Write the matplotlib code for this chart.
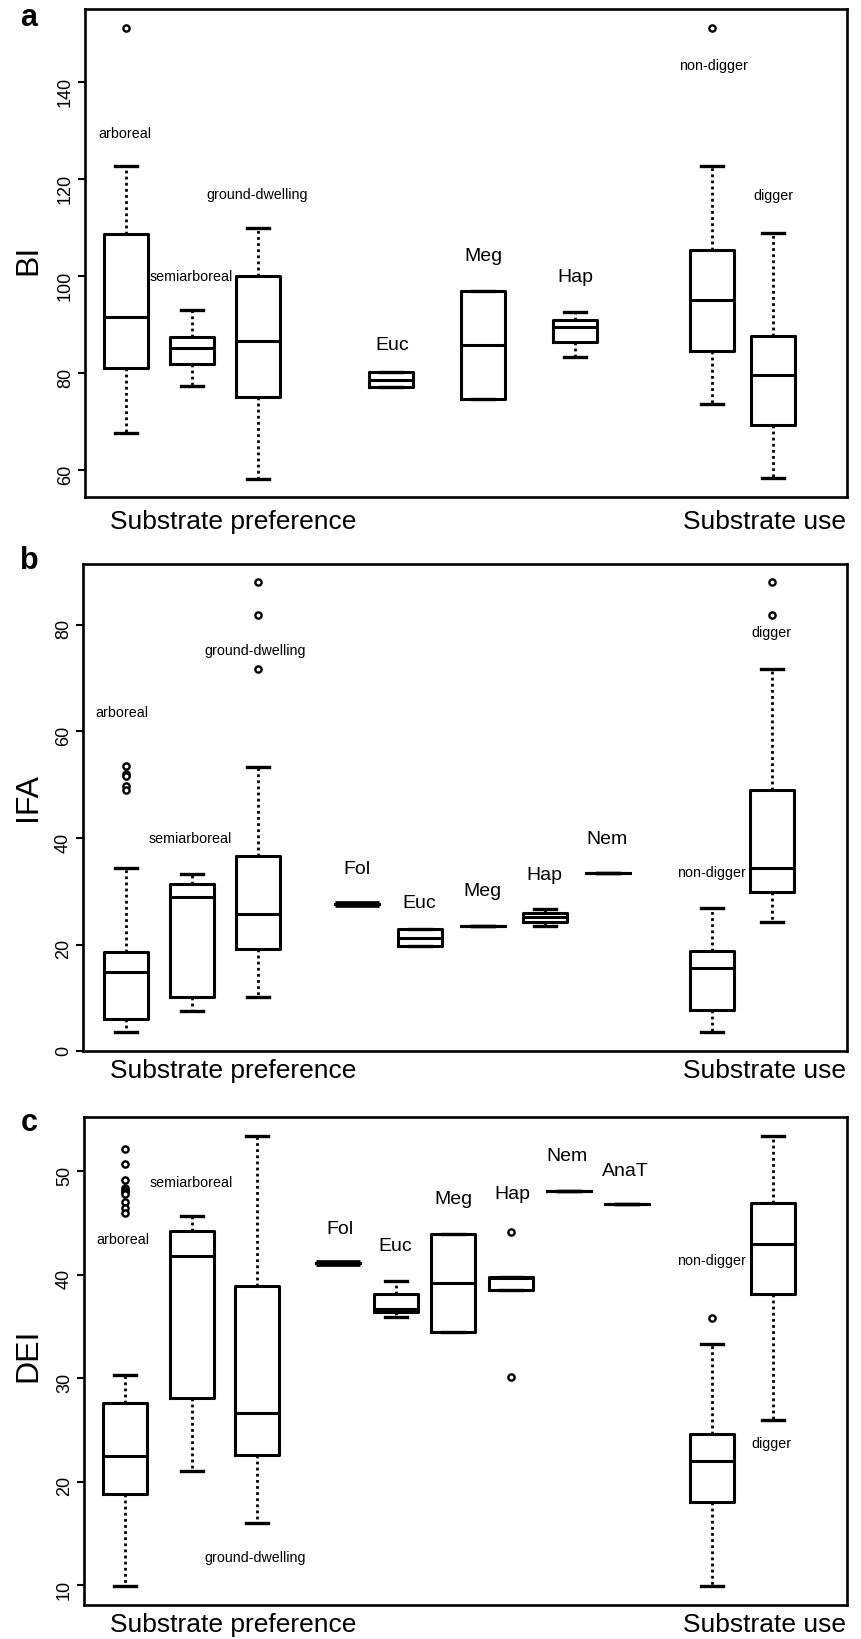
import matplotlib.pyplot as plt

plt.rcParams['font.family'] = ['Liberation Sans', 'DejaVu Sans']

# ---- panel a : BI ----
groups_a = ['arboreal', 'semiarboreal', 'ground-dwelling', 'Euc', 'Meg', 'Hap', 'non-digger', 'digger']
lo_a = [67.7, 77.3, 58.2, 77.1, 74.7, 83.3, 73.5, 58.3]
q1_a = [81.0, 81.8, 75.1, 77.1, 74.7, 86.4, 84.5, 69.3]
med_a = [91.5, 85.1, 86.6, 78.6, 85.8, 89.4, 95.1, 79.6]
q3_a = [108.6, 87.5, 100.1, 80.2, 97.0, 91.0, 105.3, 87.6]
hi_a = [122.8, 93.0, 110.0, 80.2, 97.0, 92.6, 122.8, 108.9]
out_a = [[151.2], [], [], [], [], [], [151.2], []]
ticks_a = [60, 80, 100, 120, 140]

# ---- panel b : IFA ----
groups_b = ['arboreal', 'semiarboreal', 'ground-dwelling', 'Fol', 'Euc', 'Meg', 'Hap', 'Nem', 'non-digger', 'digger']
lo_b = [3.5, 7.5, 10.2, 27.7, 19.8, 23.4, 23.5, 33.5, 3.5, 24.3]
q1_b = [6.0, 10.2, 19.2, 27.7, 19.8, 23.4, 24.2, 33.5, 7.8, 29.9]
med_b = [14.9, 28.9, 25.8, 27.7, 21.3, 23.4, 25.1, 33.5, 15.6, 34.3]
q3_b = [18.6, 31.4, 36.7, 27.7, 23.0, 23.4, 25.9, 33.5, 18.8, 49.0]
hi_b = [34.4, 33.3, 53.3, 27.7, 23.0, 23.4, 26.6, 33.5, 26.8, 71.7]
out_b = [[53.6, 52.1, 51.7, 49.7, 49.0], [], [88.0, 81.8, 71.7], [], [], [], [], [], [], [88.0, 81.8]]
ticks_b = [0, 20, 40, 60, 80]

# ---- panel c : DEI ----
groups_c = ['arboreal', 'semiarboreal', 'ground-dwelling', 'Fol', 'Euc', 'Meg', 'Hap', 'Nem', 'AnaT', 'non-digger', 'digger']
lo_c = [9.9, 21.0, 16.0, 41.1, 35.9, 34.5, 38.5, 48.1, 46.8, 9.9, 26.0]
q1_c = [18.8, 28.1, 22.6, 41.1, 36.4, 34.5, 38.5, 48.1, 46.8, 18.0, 38.1]
med_c = [22.5, 41.85, 26.6, 41.1, 36.7, 39.2, 39.7, 48.1, 46.8, 22.0, 43.0]
q3_c = [27.6, 44.2, 38.9, 41.1, 38.1, 43.9, 39.8, 48.1, 46.8, 24.6, 46.9]
hi_c = [30.3, 45.7, 53.45, 41.1, 39.4, 43.9, 39.8, 48.1, 46.8, 33.3, 53.45]
out_c = [[52.2, 50.7, 49.2, 48.4, 48.2, 48.0, 47.8, 47.0, 46.5, 46.0], [], [], [], [], [], [44.1, 30.1], [], [], [35.8], []]
ticks_c = [10, 20, 30, 40, 50]

# layout (pixels of the 862x1640 figure)
W, H = 862, 1640
pos_a = [125.7, 192, 257.7, 391.5, 483, 575, 712.5, 772.7]
pos_b = [125.7, 192, 257.7, 356.7, 419.5, 482.5, 544.5, 607.5, 712, 772]
pos_c = [125.5, 192, 257.5, 338.5, 396, 453.5, 511.3, 569, 626.7, 712, 772.7]

# label positions: (x px, y data)
lab_a = [(124.7, 129.5), (191, 100.1), (256.7, 117.0), (391.7, 85.8), (483.3, 104.2),
         (575, 99.8), (713.3, 143.6), (773.7, 116.8)]
lab_b = [(122, 63.6), (190, 40.0), (255, 75.2), (356.7, 34.2), (419.3, 27.9), (482.7, 30.1),
         (544, 33.2), (607.3, 39.9), (711, 33.6), (771.7, 78.6)]
lab_c = [(122.8, 43.5), (190.7, 49.0), (255.3, 12.7), (340, 44.5), (395, 42.8), (453.3, 47.4),
         (512.3, 47.9), (567.3, 51.5), (625, 50.1), (711, 41.4), (771.7, 23.7)]
small = ['arboreal', 'semiarboreal', 'ground-dwelling', 'non-digger', 'digger']

fig = plt.figure(figsize=(W / 100, H / 100), dpi=100)


def draw_panel(box, ylim, ticks, groups, lo, q1, med, q3, hi, out, pos, labs,
               ylab, ylab_y, letter, letter_y, xlab_y):
    left, top, right, bottom = box
    ax = fig.add_axes([left / W, 1 - bottom / H, (right - left) / W, (bottom - top) / H])
    stats = []
    for i in range(len(groups)):
        stats.append(dict(label=groups[i], whislo=lo[i], q1=q1[i], med=med[i],
                          q3=q3[i], whishi=hi[i], fliers=out[i]))
    art = ax.bxp(stats, positions=pos, widths=44, capwidths=22, manage_ticks=False,
                 boxprops=dict(color='black', lw=2.2),
                 whiskerprops=dict(color='black', lw=2.0, linestyle=(0, (1, 1.2))),
                 capprops=dict(color='black', lw=2.4),
                 medianprops=dict(color='black', lw=2.2),
                 flierprops=dict(marker='o', mfc='white', mec='black', ms=4.5, mew=1.7))
    if 'Fol' in groups:
        art['medians'][groups.index('Fol')].set_linewidth(4.8)
    ax.set_xlim(left, right)
    ax.set_ylim(*ylim)
    ax.set_xticks([])
    ax.set_yticks(ticks)
    ax.tick_params(axis='y', length=5, width=1.5, labelrotation=90, pad=3)
    for t in ax.get_yticklabels():
        t.set_family(['Liberation Sans Narrow', 'Liberation Sans'])
        t.set_fontsize(13)
    for s in ax.spines.values():
        s.set_linewidth(1.9)
    for g, (lx, ly) in zip(groups, labs):
        ax.text(lx, ly, g, ha='center', va='center', fontsize=10.3 if g in small else 14)
    fig.text(28 / W, 1 - ylab_y / H, ylab, rotation=90, ha='center', va='center', fontsize=23)
    fig.text(29 / W, 1 - letter_y / H, letter, ha='center', va='center', fontsize=22,
             fontweight='bold')
    fig.text(233.5 / W, 1 - xlab_y / H, 'Substrate preference', ha='center', va='center',
             fontsize=19)
    fig.text(846 / W, 1 - xlab_y / H, 'Substrate use', ha='right', va='center', fontsize=19)
    return ax


draw_panel((85, 10, 847, 498), (54.4, 155.1), ticks_a, groups_a, lo_a, q1_a, med_a, q3_a,
           hi_a, out_a, pos_a, lab_a, 'BI', 260, 'a', 18, 522)
draw_panel((83, 564.6, 847, 1052.1), (0, 91.5), ticks_b, groups_b, lo_b, q1_b, med_b, q3_b,
           hi_b, out_b, pos_b, lab_b, 'IFA', 797, 'b', 561, 1071)
draw_panel((84, 1117.5, 847, 1606), (8.07, 55.3), ticks_c, groups_c, lo_c, q1_c, med_c, q3_c,
           hi_c, out_c, pos_c, lab_c, 'DEI', 1355, 'c', 1123, 1625)

fig.savefig('out.png', dpi=100)
